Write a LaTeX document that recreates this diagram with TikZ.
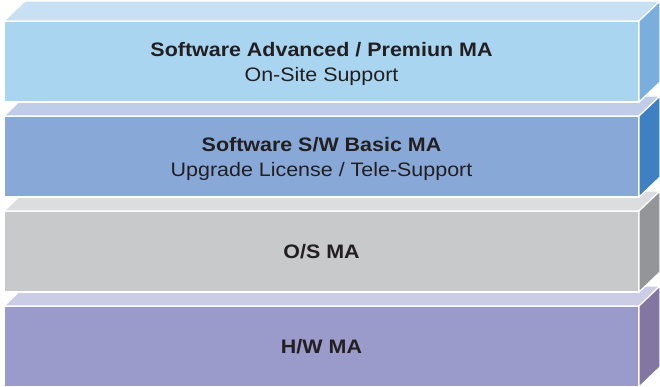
\documentclass[tikz,border=0pt]{standalone}
\usepackage{fontspec}
\setmainfont[FakeStretch=1.1]{Liberation Sans}
\usetikzlibrary{positioning, calc}
\definecolor{textcol}{RGB}{35,31,32}
\definecolor{premfront}{RGB}{169,213,240}
\definecolor{premtop}{RGB}{199,224,243}
\definecolor{premside}{RGB}{122,174,220}
\definecolor{basicfront}{RGB}{136,169,215}
\definecolor{basictop}{RGB}{191,205,232}
\definecolor{basicside}{RGB}{63,128,194}
\definecolor{osfront}{RGB}{200,201,202}
\definecolor{ostop}{RGB}{220,221,222}
\definecolor{osside}{RGB}{147,149,152}
\definecolor{hwfront}{RGB}{154,155,203}
\definecolor{hwtop}{RGB}{203,204,230}
\definecolor{hwside}{RGB}{132,118,163}

\begin{document}
\begin{tikzpicture}[
			node distance=14pt,
			layer/.style={
				draw=white,
				line width=1.2pt,
				rectangle,
				minimum width=635pt,
				minimum height=81pt,
				inner sep=0pt,
				outer sep=0pt,
				align=center,
				text depth=0pt,
				text=textcol,
				font=\fontsize{19.5}{25}\selectfont
			},
			face/.style={
				draw=white,
				line width=1.2pt,
				line join=miter
			}
			]
			\useasboundingbox (0,0) rectangle (660pt,386pt);
			
			% Layers, bottom first so each one hides the top of the one below
			\node[layer, fill=hwfront, anchor=south west] (hw) at (4pt,-1pt) {\textbf{H/W MA}};
			\filldraw[face, fill=hwtop] (hw.north west) -- ++(21pt,20pt) -- ($(hw.north east)+(21pt,20pt)$) -- (hw.north east) -- cycle;
			\filldraw[face, fill=hwside] (hw.north east) -- ++(21pt,20pt) -- ($(hw.south east)+(21pt,20pt)$) -- (hw.south east) -- cycle;
			
			\node[layer, fill=osfront] (os) [above=of hw] {\textbf{O/S MA}};
			\filldraw[face, fill=ostop] (os.north west) -- ++(21pt,20pt) -- ($(os.north east)+(21pt,20pt)$) -- (os.north east) -- cycle;
			\filldraw[face, fill=osside] (os.north east) -- ++(21pt,20pt) -- ($(os.south east)+(21pt,20pt)$) -- (os.south east) -- cycle;
			
			\node[layer, fill=basicfront] (basic) [above=of os] {\textbf{Software S/W Basic MA}\\Upgrade License / Tele-Support};
			\filldraw[face, fill=basictop] (basic.north west) -- ++(21pt,20pt) -- ($(basic.north east)+(21pt,20pt)$) -- (basic.north east) -- cycle;
			\filldraw[face, fill=basicside] (basic.north east) -- ++(21pt,20pt) -- ($(basic.south east)+(21pt,20pt)$) -- (basic.south east) -- cycle;
			
			\node[layer, fill=premfront] (premium) [above=of basic] {\textbf{Software Advanced / Premiun MA}\\On-Site Support};
			\filldraw[face, fill=premtop] (premium.north west) -- ++(21pt,20pt) -- ($(premium.north east)+(21pt,20pt)$) -- (premium.north east) -- cycle;
			\filldraw[face, fill=premside] (premium.north east) -- ++(21pt,20pt) -- ($(premium.south east)+(21pt,20pt)$) -- (premium.south east) -- cycle;
		\end{tikzpicture}
\end{document}
